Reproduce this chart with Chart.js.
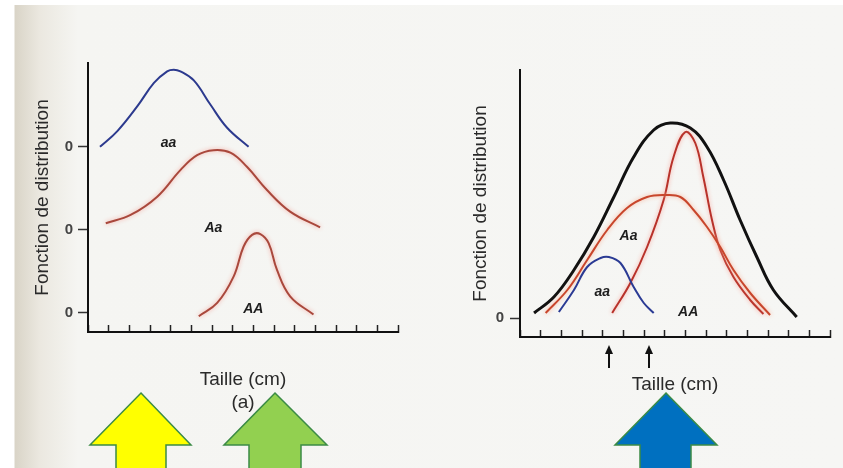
<!DOCTYPE html>
<html lang="fr">
<head>
<meta charset="UTF-8">
<title>Fonction de distribution</title>
<script src="https://cdn.jsdelivr.net/npm/chart.js"></script>
<style>
  html, body { margin: 0; padding: 0; }
  body {
    width: 843px; height: 468px; overflow: hidden; position: relative;
    background: linear-gradient(to right, #fff 0, #fff 14px, #d9d4c7 15px, #ebe8e0 40px, #f5f5f2 78px, #f6f6f4 100%);
  }
  #bandeau { position: absolute; left: 0; top: 0; width: 843px; height: 5px; background: #fff; }
  .bloc { position: absolute; top: 0; height: 468px; }
  #bloc-a { left: 0; width: 421px; }
  #bloc-b { left: 421px; width: 422px; }
  svg { position: absolute; left: 0; top: 0; }
</style>
</head>
<body>
<div id="bandeau"></div>
<div class="bloc" id="bloc-a"><canvas id="chartA" width="421" height="468"></canvas></div>
<div class="bloc" id="bloc-b"><canvas id="chartB" width="422" height="468"></canvas></div>

<!-- grosses flèches ajoutées sous les graphiques -->
<svg width="843" height="468">
  <polygon points="141,393 191,445 166,445 166,470 116,470 116,445 90,445" fill="#ffff00" stroke="#3b8b45" stroke-width="1.5"/>
  <polygon points="275,393 327,445 301,445 301,470 249,470 249,445 224,445" fill="#92d050" stroke="#3b8b45" stroke-width="1.5"/>
  <polygon points="666,393 717,445 691,445 691,470 640,470 640,445 615,445" fill="#0070c0" stroke="#3b8b45" stroke-width="1.5"/>
</svg>

<script>
// --- graphique (a) : trois génotypes séparés, x en graduations ---
const aX_aa = [-0.42, 0.42, 1.39, 2.19, 2.83, 3.15, 3.47, 4.12, 4.92, 5.73, 6.77];
const aY_aa = [0.0, 0.19, 0.49, 0.77, 0.91, 0.93, 0.91, 0.80, 0.51, 0.23, 0.0];
const aX_Aa = [-0.14, 1.06, 2.35, 3.47, 4.28, 5.08, 5.89, 6.69, 7.66, 8.78, 10.23];
const aY_Aa = [0.08, 0.18, 0.40, 0.72, 0.90, 0.96, 0.93, 0.76, 0.48, 0.22, 0.03];
const aX_AA = [4.36, 5.25, 6.05, 6.53, 6.94, 7.34, 7.74, 8.14, 8.78, 9.91];
const aY_AA = [-0.04, 0.12, 0.44, 0.80, 0.94, 0.95, 0.84, 0.52, 0.20, -0.02];
const aBaselines = [0, 1, 2];          // niveaux des zéros : AA, Aa, aa
const aTickLabels = ['0', '0', '0'];
const aLabels = ['aa', 'Aa', 'AA'];
const aLabelX = [2.90, 5.07, 7.0];
const aLabelY = [2.04, 1.02, 0.05];

// --- graphique (b) : génotypes superposés et total ---
const bX_total = [-0.32, 0.64, 1.61, 2.57, 3.54, 4.50, 5.47, 6.27, 7.24, 8.05, 8.85, 9.65, 10.46, 11.26, 12.39];
const bY_total = [0.05, 0.21, 0.48, 0.81, 1.21, 1.61, 1.88, 1.95, 1.90, 1.71, 1.38, 0.98, 0.61, 0.28, 0.01];
const bX_Aa = [0.24, 1.29, 2.25, 3.22, 4.18, 5.15, 6.03, 6.76, 7.40, 8.05, 8.69, 9.33, 10.14, 11.10];
const bY_Aa = [0.05, 0.28, 0.58, 0.88, 1.10, 1.21, 1.23, 1.21, 1.08, 0.91, 0.71, 0.48, 0.25, 0.03];
const bX_AA = [3.46, 4.34, 5.15, 5.95, 6.43, 7.00, 7.48, 7.87, 8.29, 8.69, 9.33, 10.14, 10.78];
const bY_AA = [0.05, 0.35, 0.71, 1.18, 1.61, 1.86, 1.75, 1.41, 0.98, 0.68, 0.41, 0.18, 0.04];
const bX_aa = [0.88, 1.61, 2.25, 2.90, 3.30, 3.86, 4.50, 4.99, 5.47];
const bY_aa = [0.06, 0.28, 0.51, 0.60, 0.61, 0.55, 0.31, 0.15, 0.05];
const bTickLabels = ['0'];
const bLabels = ['Aa', 'aa', 'AA'];
const bLabelX = [4.25, 2.98, 7.14];
const bLabelY = [0.82, 0.26, 0.06];
const bMarks = [3.33, 5.26];           // petites flèches sous l'axe

const FONT = "'Liberation Sans', Arial, sans-serif";

function points(xs, ys, base) {
  return xs.map((x, i) => ({ x: x, y: ys[i] + (base || 0) }));
}

function curve(data, color, width, glow) {
  return {
    data: data, borderColor: color, borderWidth: width, pointRadius: 0,
    fill: false, tension: 0.4, glow: glow
  };
}

// halo rosé autour des traits rouges (effet du scan)
const glow = {
  id: 'glow',
  beforeDatasetDraw(chart, args) {
    const ds = chart.data.datasets[args.index];
    if (ds.glow) {
      chart.ctx.save();
      chart.ctx.shadowColor = ds.glow;
      chart.ctx.shadowBlur = 4;
    }
  },
  afterDatasetDraw(chart, args) {
    if (chart.data.datasets[args.index].glow) chart.ctx.restore();
  }
};

// étiquettes des génotypes + flèches sous l'axe
const annotations = {
  id: 'annotations',
  afterDatasetsDraw(chart, args, o) {
    const ctx = chart.ctx, x = chart.scales.x, y = chart.scales.y;
    ctx.save();
    ctx.font = 'italic bold 14px ' + FONT;
    ctx.fillStyle = '#1e1e1e';
    ctx.textAlign = 'center';
    ctx.textBaseline = 'middle';
    o.text.forEach((t, i) => {
      ctx.fillText(t, x.getPixelForValue(o.xs[i]), y.getPixelForValue(o.ys[i]));
    });
    const base = chart.chartArea.bottom;
    ctx.strokeStyle = '#111';
    ctx.fillStyle = '#111';
    ctx.lineWidth = 2;
    (o.marks || []).forEach(v => {
      const px = Math.round(x.getPixelForValue(v));
      ctx.beginPath();
      ctx.moveTo(px, base + 31);
      ctx.lineTo(px, base + 14);
      ctx.stroke();
      ctx.beginPath();
      ctx.moveTo(px, base + 8);
      ctx.lineTo(px - 4, base + 17);
      ctx.lineTo(px + 4, base + 17);
      ctx.closePath();
      ctx.fill();
    });
    ctx.restore();
  }
};

function makeChart(id, cfg) {
  return new Chart(document.getElementById(id), {
    type: 'line',
    data: { datasets: cfg.datasets },
    options: {
      responsive: false,
      animation: false,
      devicePixelRatio: 1,
      layout: { padding: cfg.padding },
      plugins: {
        legend: { display: false },
        tooltip: { enabled: false },
        annotations: cfg.annotations
      },
      scales: {
        x: {
          type: 'linear', min: -1, max: 14,
          afterFit: s => { s.height = cfg.xHeight; },
          ticks: { display: false, stepSize: 1 },
          grid: { drawOnChartArea: false, drawTicks: true, tickLength: -7, tickWidth: 1.5, color: '#222' },
          border: { display: true, color: '#111', width: 2 },
          title: {
            display: true, text: cfg.xTitle, color: '#2a2a2a',
            font: { family: FONT, size: 19 }, padding: { top: 0, bottom: cfg.xTitlePad }
          }
        },
        y: {
          type: 'linear', min: cfg.yMin, max: cfg.yMax,
          afterFit: s => { s.width = cfg.yWidth; },
          afterBuildTicks: s => { s.ticks = cfg.yTicks.map(v => ({ value: v })); },
          ticks: {
            callback: (v, i) => cfg.yTickLabels[i],
            color: '#444', padding: cfg.yTickPad,
            font: { family: FONT, size: 15, weight: 'bold' }
          },
          grid: { drawOnChartArea: false, drawTicks: true, tickLength: 10, tickWidth: 1.5, color: '#333' },
          border: { display: true, color: '#111', width: 2 },
          title: {
            display: true, text: 'Fonction de distribution', color: '#2a2a2a',
            font: { family: FONT, size: 19 }, padding: { top: cfg.yTitlePad, bottom: 0 }
          }
        }
      }
    },
    plugins: [glow, annotations]
  });
}

makeChart('chartA', {
  datasets: [
    curve(points(aX_aa, aY_aa, aBaselines[2]), '#2c3a8e', 2),
    curve(points(aX_Aa, aY_Aa, aBaselines[1]), '#a9483c', 2, 'rgba(245,160,150,0.9)'),
    curve(points(aX_AA, aY_AA, aBaselines[0]), '#a9483c', 2, 'rgba(245,160,150,0.9)')
  ],
  padding: { top: 63, right: 23, bottom: 0, left: 0 },
  xHeight: 136, xTitle: ['Taille (cm)', '(a)'], xTitlePad: 54,
  yMin: -0.23, yMax: 3.01, yWidth: 88, yTicks: aBaselines, yTickLabels: aTickLabels,
  yTickPad: 5, yTitlePad: 31,
  annotations: { text: aLabels, xs: aLabelX, ys: aLabelY }
});

makeChart('chartB', {
  datasets: [
    curve(points(bX_aa, bY_aa), '#2b3b94', 2),
    curve(points(bX_Aa, bY_Aa), '#c8462c', 2, 'rgba(250,170,140,0.9)'),
    curve(points(bX_AA, bY_AA), '#b8322a', 2, 'rgba(250,160,150,0.9)'),
    curve(points(bX_total, bY_total), '#111', 3)
  ],
  padding: { top: 70, right: 13, bottom: 0, left: 0 },
  xHeight: 131, xTitle: 'Taille (cm)', xTitlePad: 72,
  yMin: -0.19, yMax: 2.48, yWidth: 99, yTicks: [0], yTickLabels: bTickLabels,
  yTickPad: 6, yTitlePad: 48,
  annotations: { text: bLabels, xs: bLabelX, ys: bLabelY, marks: bMarks }
});
</script>
</body>
</html>
